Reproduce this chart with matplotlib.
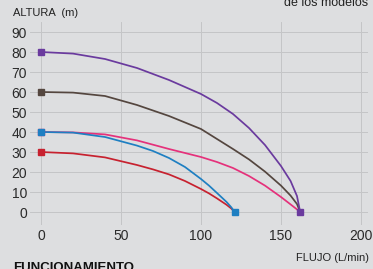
import matplotlib
matplotlib.use("Agg")
import matplotlib.pyplot as plt

# flow (L/min) sample points
flow_big = [0, 20, 40, 60, 80, 100, 110, 120, 130, 140, 150, 156, 160, 162]
flow_small = [0, 20, 40, 60, 70, 80, 90, 100, 105, 110, 116, 119, 121]

# head (m) for each model
purple = [80, 79.2, 76.5, 72, 66, 59, 54.5, 49, 42, 33.5, 23, 15.5, 8, 0]
brown = [60, 59.7, 58, 53.5, 48, 41.5, 36.5, 31.5, 26.3, 20.2, 13.2, 8.2, 4, 0]
pink = [40, 39.8, 38.8, 35.8, 31.5, 27.5, 25, 22, 18, 13.2, 7.5, 3.8, 1.3, 0]
blue = [40, 39.7, 37.5, 33.2, 30.5, 27, 22.5, 16.5, 13.2, 9.5, 5, 2.3, 0]
red = [30, 29.3, 27.3, 23.5, 21.3, 18.8, 15.5, 11.5, 9.3, 6.8, 3.6, 1.7, 0]

xticks = [0, 50, 100, 150, 200]
yticks = [0, 10, 20, 30, 40, 50, 60, 70, 80, 90]

c_purple = "#6a3a9e"
c_brown = "#54463f"
c_pink = "#e5317b"
c_blue = "#1e7fc2"
c_red = "#c7212f"
bg = "#dddee0"

plt.rcParams["font.family"] = ["Liberation Sans", "DejaVu Sans"]

fig = plt.figure(figsize=(3.73, 2.69), dpi=100, facecolor=bg)
ax = fig.add_axes([30 / 373, 44 / 269, 338 / 373, 203 / 269])
ax.set_facecolor(bg)

ax.set_xlim(-6.9, 204.4)
ax.set_ylim(-6.5, 95)
ax.set_xticks(xticks)
ax.set_yticks(yticks)
ax.grid(True, color="#c4c5c7", linewidth=0.7)
ax.set_axisbelow(True)
for s in ax.spines.values():
    s.set_visible(False)
ax.tick_params(length=0, labelsize=10, colors="#2a2a2a")
ax.tick_params(axis="y", pad=2)
ax.tick_params(axis="x", pad=3)

lw = 1.25
ax.plot(flow_big, pink, color=c_pink, lw=lw, zorder=3)
ax.plot(flow_big, brown, color=c_brown, lw=lw, zorder=3)
ax.plot(flow_big, purple, color=c_purple, lw=lw, zorder=3)
ax.plot(flow_small, red, color=c_red, lw=lw, zorder=3)
ax.plot(flow_small, blue, color=c_blue, lw=lw, zorder=3)

ms = 5
for ys, c in [(purple, c_purple), (brown, c_brown), (pink, c_pink), (blue, c_blue), (red, c_red)]:
    ax.plot(0, ys[0], marker="s", ms=ms, color=c, zorder=4)
ax.plot(flow_small[-1], blue[-1], marker="s", ms=ms, color=c_blue, zorder=4)
ax.plot(flow_big[-1], purple[-1], marker="s", ms=ms, color=c_purple, zorder=4)

fig.text(13 / 373, 1 - 13 / 269, "ALTURA  (m)", fontsize=8, color="#222222", va="center", ha="left")
fig.text(368 / 373, 1 - 3 / 269, "de los modelos", fontsize=9, color="#222222", va="center", ha="right")
fig.text(369 / 373, 1 - 258 / 269, "FLUJO (L/min)", fontsize=8, color="#222222", va="center", ha="right")
fig.text(13 / 373, 1 - 274 / 269, "FUNCIONAMIENTO", fontsize=9.5, fontweight="bold", color="#111111", va="bottom", ha="left")

fig.savefig("out.png", dpi=100, facecolor=bg)
